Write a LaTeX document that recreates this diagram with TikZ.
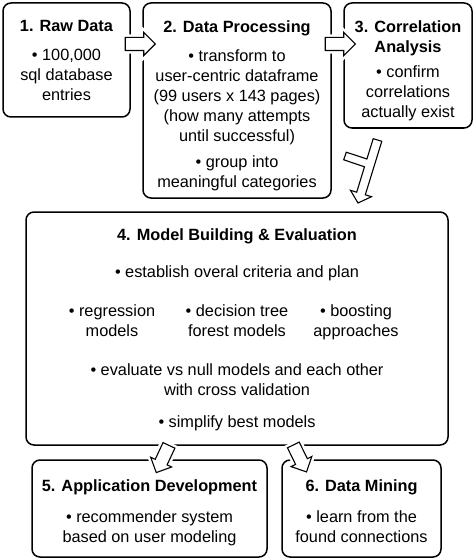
\documentclass[tikz,border=0pt]{standalone}
\usepackage{fontspec}
\setmainfont{Liberation Sans}
\usetikzlibrary{shapes.arrows}

\tikzset{
  stagebox/.style={draw, line width=1.5pt, rounded corners=8pt, inner sep=0pt},
  flowarrow/.style={single arrow, draw, fill=white, line width=1.1pt,
    minimum height=30pt, single arrow head extend=5pt,
    inner xsep=0pt, inner ysep=6pt, preaction={draw=white, line width=6pt}},
  bodytext/.style={align=center, inner sep=0pt, anchor=north}
}

\begin{document}
\begin{tikzpicture}[x=1pt,y=-1pt,font=\fontsize{16.3}{20}\selectfont]
    \useasboundingbox (0,0) rectangle (474,559);

    % top row of stages
    \node[stagebox, minimum width=127pt, minimum height=114pt] (raw)  at (66.5,60) {};
    \node[stagebox, minimum width=188pt, minimum height=195pt] (proc) at (237,100.5) {};
    \node[stagebox, minimum width=128pt, minimum height=125pt] (corr) at (408,65.5) {};

    \node[bodytext] (rawtext) at (66.5,20)
        {\textbf{1. Raw Data}\\[9.3pt] • 100,000\\ sql database\\ entries};
    \node[bodytext] (proctext) at (237,20)
        {\textbf{2. Data Processing}\\[9.3pt] • transform to\\ user-centric dataframe\\
         (99 users x 143 pages)\\ (how many attempts\\ until successful)\\[5.7pt]
         • group into\\ meaningful categories};
    \node[bodytext] (corrtext) at (408,20)
        {\textbf{3. Correlation}\\ \textbf{Analysis}\\[5pt] • confirm\\ correlations\\ actually exist};

    % model building
    \node[stagebox, minimum width=422pt, minimum height=233pt] (model) at (237,328.5) {};
    \node[bodytext] (mtitle)  at (237,228.3) {\textbf{4. Model Building \& Evaluation}};
    \node[bodytext] (mplan)   at (237,265.6) {• establish overal criteria and plan};
    \node[bodytext] (mreg)    at (112,304.3) {• regression\\ models};
    \node[bodytext] (mtree)   at (237,304.3) {• decision tree\\ forest models};
    \node[bodytext] (mboost)  at (356,304.3) {• boosting\\ approaches};
    \node[bodytext] (meval)   at (237,363.3) {• evaluate vs null models and each other\\ with cross validation};
    \node[bodytext] (msimple) at (237,415.6) {• simplify best models};

    % bottom row of stages
    \node[stagebox, minimum width=235pt, minimum height=97pt] (app)  at (149.5,508.5) {};
    \node[stagebox, minimum width=159pt, minimum height=97pt] (mine) at (361.5,508.5) {};

    \node[bodytext] (apptext) at (149.5,479)
        {\textbf{5. Application Development}\\[11pt] • recommender system\\ based on user modeling};
    \node[bodytext] (minetext) at (361.5,479)
        {\textbf{6. Data Mining}\\[11pt] • learn from the\\ found connections};

    % block arrows
    \node[flowarrow] (a12) at (137,44) {};
    \node[flowarrow] (a23) at (337,44) {};
    \node[flowarrow, rotate=245] (a45) at (164,456) {};
    \node[flowarrow, rotate=296] (a46) at (298.5,455.5) {};

    % merging arrow into stage 4
    \draw[fill=white, line width=1.1pt, line join=miter]
        (373.2,138.7) -- (381.8,141.3) -- (365.3,194.8) -- (371.5,196.7) -- (358,203)
        -- (350.5,190.3) -- (356.7,192.2) -- (364.5,166.8) -- (343.7,159.8)
        -- (346.3,152.2) -- (366.9,159.0) -- cycle;

\end{tikzpicture}
\end{document}
